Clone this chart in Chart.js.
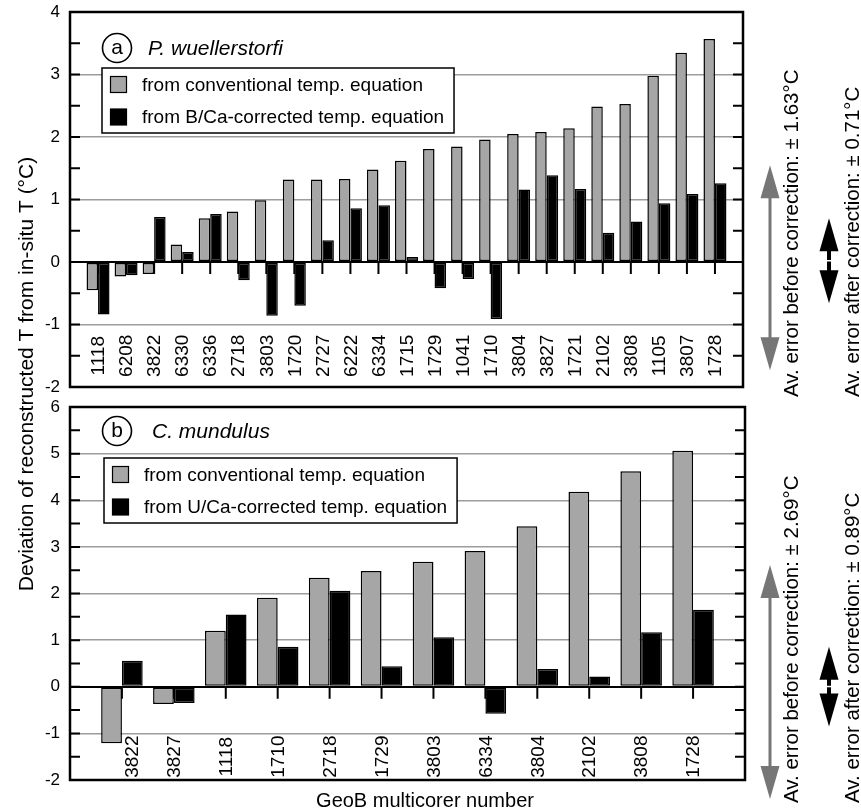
<!DOCTYPE html>
<html>
<head>
<meta charset="utf-8">
<script src="https://cdn.jsdelivr.net/npm/chart.js@4.4.0/dist/chart.umd.min.js"></script>
<style>
  html, body { margin: 0; padding: 0; background: #fff; }
  #wrap { position: relative; width: 861px; height: 811px; }
  #wrap canvas { position: absolute; left: 0; top: 0; }
</style>
</head>
<body>
<div id="wrap">
  <canvas id="chartA" width="861" height="811"></canvas>
  <canvas id="chartB" width="861" height="811"></canvas>
</div>
<script>
// ---- (a) P. wuellerstorfi ----
const coresA = ['1118','6208','3822','6330','6336','2718','3803','1720','2727','6222','6334','1715',
                '1729','1041','1710','3804','3827','1721','2102','3808','1105','3807','1728'];
const conventionalA = [-0.45,-0.23,-0.19,0.28,0.70,0.81,0.99,1.32,1.32,1.33,1.48,1.62,
                       1.81,1.85,1.96,2.05,2.08,2.14,2.49,2.53,2.98,3.35,3.57];
const correctedA = [-0.84,-0.21,0.72,0.16,0.77,-0.29,-0.86,-0.70,0.35,0.86,0.91,0.08,
                    -0.42,-0.27,-0.91,1.16,1.39,1.17,0.47,0.65,0.94,1.09,1.26];
const errorBeforeA = '1.63';
const errorAfterA = '0.71';
// vertical extent of the error arrows, in °C
const arrowBeforeA = [1.55, -1.73];
const arrowAfterA = [0.70, -0.66];

// ---- (b) C. mundulus ----
const coresB = ['3822','3827','1118','1710','2718','1729','3803','6334','3804','2102','3808','1728'];
const conventionalB = [-1.21,-0.37,1.20,1.91,2.34,2.48,2.68,2.91,3.44,4.18,4.62,5.06];
const correctedB = [0.56,-0.35,1.55,0.86,2.06,0.44,1.06,-0.58,0.38,0.22,1.17,1.65];
const errorBeforeB = '2.69';
const errorAfterB = '0.89';
const arrowBeforeB = [2.61, -2.41];
const arrowAfterB = [0.86, -0.85];

const yTicksA = { min: -2, max: 4 };
const yTicksB = { min: -2, max: 6 };

const FONT = "'Liberation Sans', Arial, Helvetica, sans-serif";
const GRAY_BAR = '#a6a6a6';
const GRAY_ARROW = '#767676';
const GRID = '#9c9c9c';

// blank slot at each end keeps a one-category margin inside the frame
const pad = arr => [null, ...arr, null];
const padLabels = arr => ['', ...arr, ''];

function drawArrow(ctx, x, yTop, yBot, color, shaftW, headW, headL, split) {
  ctx.save();
  ctx.fillStyle = color;
  ctx.strokeStyle = color;
  ctx.lineWidth = shaftW;
  ctx.beginPath();
  ctx.moveTo(x, yTop + headL - 1);
  ctx.lineTo(x, yBot - headL + 1);
  ctx.stroke();
  ctx.beginPath();
  ctx.moveTo(x, yTop); ctx.lineTo(x - headW / 2, yTop + headL); ctx.lineTo(x + headW / 2, yTop + headL);
  ctx.closePath(); ctx.fill();
  ctx.beginPath();
  ctx.moveTo(x, yBot); ctx.lineTo(x - headW / 2, yBot - headL); ctx.lineTo(x + headW / 2, yBot - headL);
  ctx.closePath(); ctx.fill();
  if (split) {
    const ym = (yTop + yBot) / 2;
    ctx.strokeStyle = '#fff';
    ctx.lineWidth = 1.5;
    ctx.beginPath(); ctx.moveTo(x - headW / 2, ym); ctx.lineTo(x + headW / 2, ym); ctx.stroke();
  }
  ctx.restore();
}

function vText(ctx, text, x, y, size, align) {
  ctx.save();
  ctx.translate(x, y);
  ctx.rotate(-Math.PI / 2);
  ctx.font = size + 'px ' + FONT;
  ctx.fillStyle = '#000';
  ctx.textAlign = align || 'left';
  ctx.textBaseline = 'alphabetic';
  ctx.fillText(text, 0, 0);
  ctx.restore();
}

const panelDeco = {
  id: 'panelDeco',
  beforeDatasetsDraw(chart, args, o) {
    // short ticks hanging from the zero line at each core
    const { ctx, scales: { x, y } } = chart;
    const y0 = y.getPixelForValue(0);
    ctx.save();
    ctx.strokeStyle = '#000';
    ctx.lineWidth = 2;
    chart.data.labels.forEach((lab, i) => {
      if (!lab) return;
      const px = x.getPixelForValue(i);
      ctx.beginPath(); ctx.moveTo(px, y0); ctx.lineTo(px, y0 + 12); ctx.stroke();
    });
    ctx.restore();
  },
  afterDatasetsDraw(chart, args, o) {
    const { ctx, chartArea: ca, scales: { x, y } } = chart;
    ctx.save();

    // core numbers, rotated, centred between -1 and -2
    const yLab = y.getPixelForValue(-1.5);
    const yLabTop = y.getPixelForValue(-1);
    ctx.font = '19px ' + FONT;
    chart.data.labels.forEach((lab, i) => {
      if (!lab) return;
      let px = x.getPixelForValue(i);
      // move the number aside if a bar reaches into the label band
      chart.data.datasets.forEach((ds, d) => {
        const el = chart.getDatasetMeta(d).data[i];
        if (el && Math.max(el.y, el.base) > yLabTop + 2) px = Math.max(px, el.x + el.width / 2 + 10);
      });
      ctx.save();
      ctx.translate(px, yLab);
      ctx.rotate(-Math.PI / 2);
      ctx.fillStyle = '#000';
      ctx.textAlign = 'center';
      ctx.textBaseline = 'middle';
      ctx.fillText(lab, 0, 1);
      ctx.restore();
    });

    // frame
    ctx.strokeStyle = '#000';
    ctx.lineWidth = 2.5;
    ctx.strokeRect(ca.left, ca.top, ca.right - ca.left, ca.bottom - ca.top);

    // inward ticks on both vertical axes every 0.5
    ctx.lineWidth = 2;
    for (let v = y.min; v <= y.max + 1e-9; v += 0.5) {
      const py = y.getPixelForValue(v);
      ctx.beginPath();
      ctx.moveTo(ca.left, py); ctx.lineTo(ca.left + 10, py);
      ctx.moveTo(ca.right, py); ctx.lineTo(ca.right - 10, py);
      ctx.stroke();
    }

    // panel tag and species name
    const tx = ca.left + o.tag.dx, ty = ca.top + o.tag.dy;
    ctx.lineWidth = 1.6;
    ctx.beginPath(); ctx.arc(tx, ty, 14.5, 0, Math.PI * 2); ctx.stroke();
    ctx.fillStyle = '#000';
    ctx.font = '21px ' + FONT;
    ctx.textAlign = 'center';
    ctx.textBaseline = 'middle';
    ctx.fillText(o.tag.letter, tx, ty);
    ctx.font = 'italic 21px ' + FONT;
    ctx.textAlign = 'left';
    ctx.fillText(o.tag.species, tx + o.tag.nameDx, ty + 1);

    // legend box
    ctx.font = '19px ' + FONT;
    const ds = chart.data.datasets;
    const textW = Math.max(...ds.map(d => ctx.measureText(d.label).width));
    const lx = ca.left + o.legend.dx, ly = ca.top + o.legend.dy;
    const lw = 40 + textW + 10, lh = 65;
    ctx.fillStyle = '#fff';
    ctx.fillRect(lx, ly, lw, lh);
    ctx.strokeStyle = '#000';
    ctx.lineWidth = 1.5;
    ctx.strokeRect(lx, ly, lw, lh);
    ds.forEach((d, k) => {
      const cy = ly + 16.5 + k * 32.5;
      ctx.fillStyle = d.backgroundColor;
      ctx.fillRect(lx + 8.5, cy - 8, 16, 16);
      ctx.strokeStyle = '#000';
      ctx.lineWidth = 1.2;
      ctx.strokeRect(lx + 8.5, cy - 8, 16, 16);
      ctx.fillStyle = '#000';
      ctx.textAlign = 'left';
      ctx.textBaseline = 'middle';
      ctx.fillText(d.label, lx + 40, cy + 1);
    });

    // average error arrows and their captions
    const a = o.arrows;
    drawArrow(ctx, 770, y.getPixelForValue(a.before[0]), y.getPixelForValue(a.before[1]),
              GRAY_ARROW, 3, 19, 33, false);
    drawArrow(ctx, 829, y.getPixelForValue(a.after[0]), y.getPixelForValue(a.after[1]),
              '#000', 4, 19, 33, true);
    vText(ctx, 'Av. error before correction: \u00b1 ' + a.beforeText + '\u00b0C', 798, ca.bottom + a.textDy, 20.5);
    vText(ctx, 'Av. error after correction: \u00b1 ' + a.afterText + '\u00b0C', 859, ca.bottom + a.textDy, 20.5);

    ctx.restore();
  }
};

const sharedTitles = {
  id: 'sharedTitles',
  afterDraw(chart) {
    const { ctx, chartArea: ca } = chart;
    ctx.save();
    ctx.fillStyle = '#000';
    ctx.font = '20px ' + FONT;
    ctx.textAlign = 'center';
    ctx.textBaseline = 'middle';
    ctx.fillText('GeoB multicorer number', 425, 801);
    ctx.translate(27, 374);
    ctx.rotate(-Math.PI / 2);
    ctx.font = '21px ' + FONT;
    ctx.fillText('Deviation of reconstructed T from in-situ T (\u00b0C)', 0, 0);
    ctx.restore();
  }
};

function makeChart(id, cores, conv, corr, corrLabel, yr, pads, catPct, deco, extra) {
  return new Chart(document.getElementById(id), {
    type: 'bar',
    data: {
      labels: padLabels(cores),
      datasets: [
        { label: 'from conventional temp. equation', data: pad(conv),
          backgroundColor: GRAY_BAR, borderColor: '#000', borderWidth: 1.5, borderSkipped: false },
        { label: corrLabel, data: pad(corr),
          backgroundColor: '#000', borderColor: '#000', borderWidth: 1.5, borderSkipped: false }
      ]
    },
    options: {
      responsive: false,
      animation: false,
      devicePixelRatio: 1,
      layout: { padding: pads },
      datasets: { bar: { categoryPercentage: catPct, barPercentage: 1 } },
      scales: {
        x: { display: false, offset: false },
        y: {
          min: yr.min, max: yr.max,
          afterFit(s) { s.width = 70; s.paddingTop = 0; s.paddingBottom = 0; },
          ticks: {
            stepSize: 0.5,
            padding: 10,
            color: '#000',
            font: { family: FONT, size: 17 },
            callback: v => Number.isInteger(v) ? String(v) : ''
          },
          grid: {
            drawTicks: false,
            color: c => {
              const v = c.tick.value;
              if (v === 0) return '#000';
              if (Number.isInteger(v) && v > yr.min && v < yr.max) return GRID;
              return 'rgba(0,0,0,0)';
            },
            lineWidth: c => c.tick.value === 0 ? 2 : 1.5
          },
          border: { display: false }
        }
      },
      plugins: {
        legend: { display: false },
        tooltip: { enabled: false },
        panelDeco: deco
      }
    },
    plugins: [panelDeco].concat(extra)
  });
}

makeChart('chartA', coresA, conventionalA, correctedA, 'from B/Ca-corrected temp. equation',
  yTicksA, { left: 0, top: 12, right: 118, bottom: 424 }, 0.82,
  { tag: { letter: 'a', species: 'P. wuellerstorfi', dx: 47, dy: 36, nameDx: 31 },
    legend: { dx: 32, dy: 56 },
    arrows: { before: arrowBeforeA, after: arrowAfterA, beforeText: errorBeforeA, afterText: errorAfterA, textDy: 10 } },
  []);

makeChart('chartB', coresB, conventionalB, correctedB, 'from U/Ca-corrected temp. equation',
  yTicksB, { left: 0, top: 407, right: 116, bottom: 31 }, 0.8,
  { tag: { letter: 'b', species: 'C. mundulus', dx: 47, dy: 24, nameDx: 35 },
    legend: { dx: 34, dy: 51 },
    arrows: { before: arrowBeforeB, after: arrowAfterB, beforeText: errorBeforeB, afterText: errorAfterB, textDy: 23 } },
  [sharedTitles]);
</script>
</body>
</html>
